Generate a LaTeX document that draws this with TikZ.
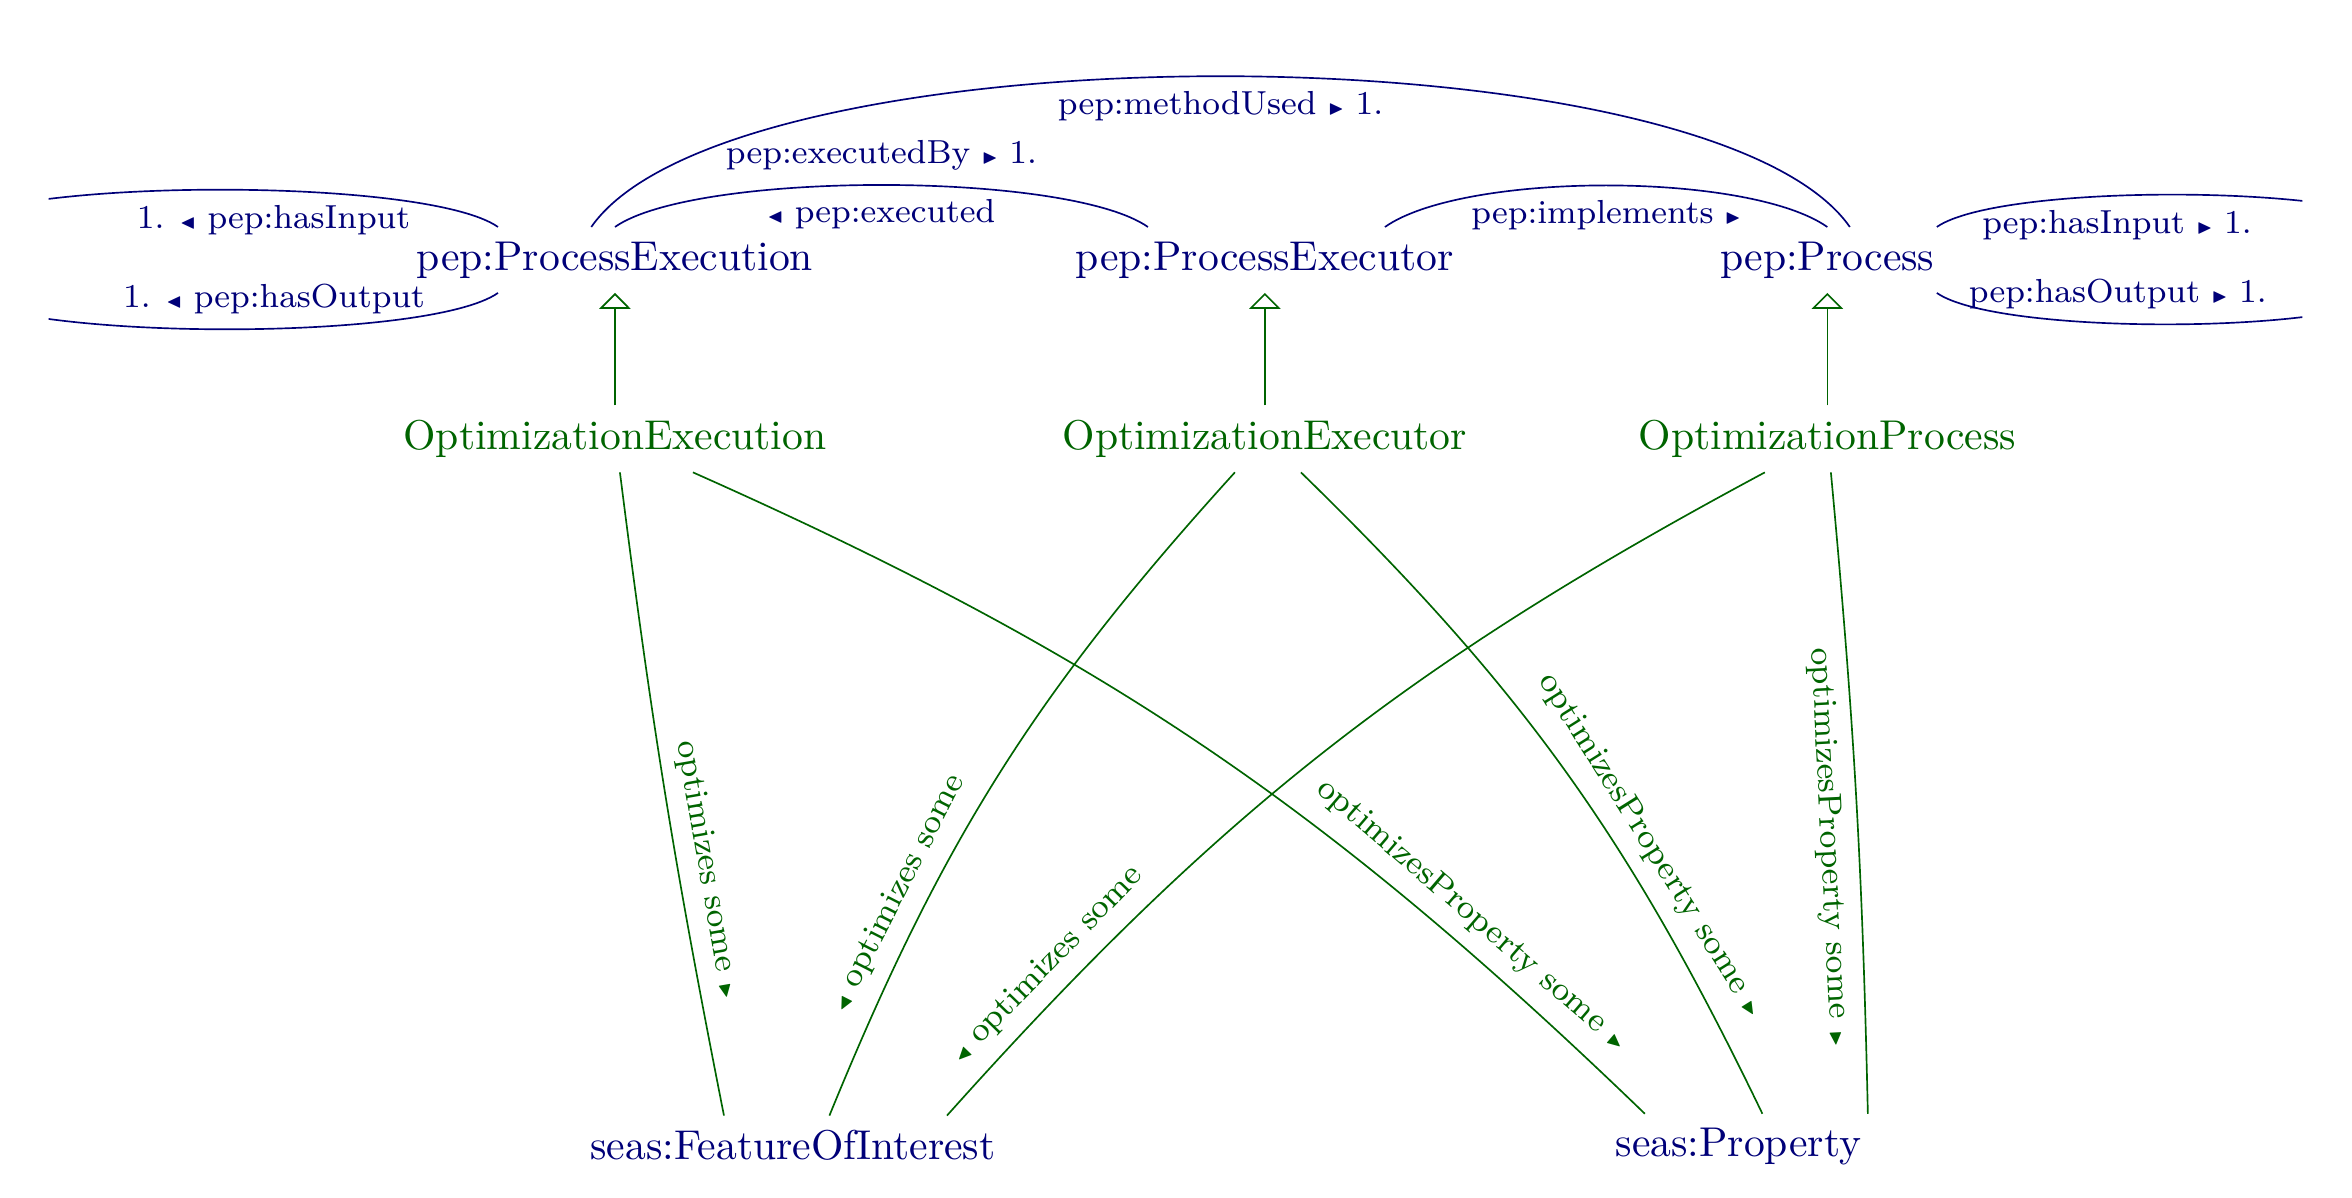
\documentclass[tikz,border=0pt]{standalone}
\usepackage{xcolor}
\usepackage{amssymb}
\usepackage{graphicx}
\usepackage{tikz}
\usetikzlibrary{positioning, arrows.meta}

\definecolor{pepblue}{RGB}{0,0,120}
\definecolor{optgreen}{RGB}{0,100,0}

\newcommand{\pointR}{\scalebox{0.6}{$\blacktriangleright$}}
\newcommand{\pointL}{\scalebox{0.6}{$\blacktriangleleft$}}

\begin{document}
\begin{tikzpicture}[
        node distance=0.95cm,
        pepclass/.style={text=pepblue},
        optclass/.style={text=optgreen},
        pepedge/.style={draw=pepblue},
        peplabel/.style={font=\footnotesize, text=pepblue},
        optedge/.style={draw=optgreen},
        optlabel/.style={font=\footnotesize, text=optgreen, sloped},
        subclass/.style={draw=optgreen, -{Triangle[open, length=3.8pt, width=7.5pt]}}
    ]
        \useasboundingbox (0,0) rectangle (19.85,-10.11);
        \clip (0.41,0) rectangle (19.43,-10.11);

        % Nodes
        \node (pe) [pepclass] at (5.19,-2.194) {pep:ProcessExecution};
        \node (pex) [pepclass] at (10.675,-2.194) {pep:ProcessExecutor};
        \node (proc) [pepclass] at (15.422,-2.194) {pep:Process};
        \node (oe) [optclass, below=of pe] {OptimizationExecution};
        \node (oex) [optclass, below=of pex] {OptimizationExecutor};
        \node (op) [optclass, below=of proc] {OptimizationProcess};
        \node (foi) [pepclass] at (6.692,-9.667) {seas:FeatureOfInterest};
        \node (prop) [pepclass] at (14.671,-9.68) {seas:Property};

        % Loose ends (outside the frame)
        \coordinate (inL) at (-0.52,-1.92);
        \coordinate (outL) at (-0.42,-2.466);
        \coordinate (inR) at (20.35,-1.92);
        \coordinate (outR) at (20.25,-2.466);

        % Subclass arrows
        \draw [subclass] (oe) -- (pe);
        \draw [subclass] (oex) -- (pex);
        \draw [subclass] (op) -- (proc);

        % Object properties
        \draw [pepedge] ([xshift=-0.2cm]pe.north) to[out=55, in=125, looseness=0.5] node[peplabel, below] {pep:methodUsed \pointR{} 1.} ([xshift=0.19cm]proc.north);
        \draw [pepedge] (pe.north) to[out=35, in=145, looseness=0.47] node[peplabel, above] {pep:executedBy \pointR{} 1.} node[peplabel, below] {\pointL{} pep:executed} ([xshift=-0.987cm]pex.north);
        \draw [pepedge] ([xshift=1.013cm]pex.north) to[out=35, in=145, looseness=0.56] node[peplabel, below] {pep:implements \pointR} (proc.north);
        \draw [pepedge] ([xshift=-0.987cm]pe.north) to[out=145, in=35, looseness=0.4] node[peplabel, below, pos=0.424] {1. \pointL{} pep:hasInput} (inL);
        \draw [pepedge] ([xshift=-0.987cm]pe.south) to[out=215, in=-35, looseness=0.4] node[peplabel, above, pos=0.43] {1. \pointL{} pep:hasOutput} (outL);
        \draw [pepedge] ([xshift=0.924cm]proc.north) to[out=35, in=145, looseness=0.41] node[peplabel, below, pos=0.407] {pep:hasInput \pointR{} 1.} (inR);
        \draw [pepedge] ([xshift=0.924cm]proc.south) to[out=-35, in=215, looseness=0.41] node[peplabel, above, pos=0.416] {pep:hasOutput \pointR{} 1.} (outR);

        % Restrictions
        \draw [optedge] ([xshift=0.042cm]oe.south) to[bend right=2] node[optlabel, above, pos=0.635] {optimizes some \pointR} ([xshift=-0.582cm]foi.north);
        \draw [optedge] ([xshift=0.658cm]oe.south) to[bend left=10] node[optlabel, above, pos=0.79] {optimizesProperty some \pointR} ([xshift=-0.789cm]prop.north);
        \draw [optedge] ([xshift=-0.253cm]oex.south) to[bend right=10] node[optlabel, above, pos=0.715] {\pointL{} optimizes some} ([xshift=0.308cm]foi.north);
        \draw [optedge] ([xshift=0.304cm]oex.south) to[bend left=10] node[optlabel, above, pos=0.65] {optimizesProperty some \pointR} ([xshift=0.203cm]prop.north);
        \draw [optedge] ([xshift=-0.527cm]op.south) to[bend right=10] node[optlabel, above, pos=0.845] {\pointL{} optimizes some} ([xshift=1.3cm]foi.north);
        \draw [optedge] ([xshift=0.03cm]op.south) to[bend left=2] node[optlabel, below, pos=0.59] {optimizesProperty some \pointR} ([xshift=1.093cm]prop.north);
    \end{tikzpicture}
\end{document}
